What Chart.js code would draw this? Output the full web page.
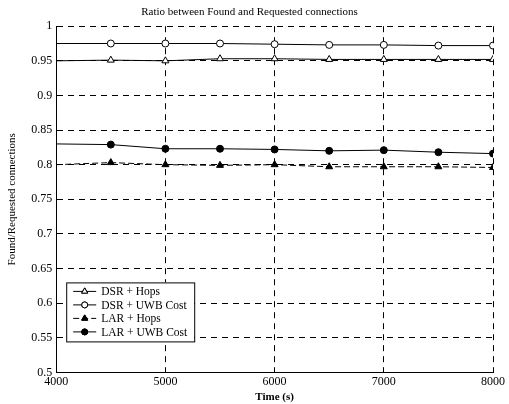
<!DOCTYPE html>
<html>
<head>
<meta charset="utf-8">
<script src="https://cdn.jsdelivr.net/npm/chart.js@4/dist/chart.umd.min.js"></script>
<style>
  html, body { margin: 0; padding: 0; background: #fff; }
  #wrap { width: 509px; height: 404px; position: relative; }
</style>
</head>
<body>
<div id="wrap"><canvas id="chart"></canvas></div>
<script>
  "use strict";

  // data
  const times = [4000, 4500, 5000, 5500, 6000, 6500, 7000, 7500, 8000];
  const dsrHops = [0.950, 0.951, 0.950, 0.953, 0.953, 0.952, 0.952, 0.952, 0.952];
  const dsrUwb = [0.975, 0.975, 0.975, 0.975, 0.974, 0.973, 0.973, 0.972, 0.972];
  const larHops = [0.800, 0.803, 0.800, 0.799, 0.800, 0.797, 0.797, 0.797, 0.796];
  const larUwb = [0.830, 0.829, 0.823, 0.823, 0.822, 0.820, 0.821, 0.818, 0.816];
  const seriesNames = ["DSR + Hops", "DSR + UWB Cost", "LAR + Hops", "LAR + UWB Cost"];
  const xTicks = [4000, 5000, 6000, 7000, 8000];

  const FONT = "'Liberation Serif', 'DejaVu Serif', serif";

  function pts(ys) {
    return times.map((t, i) => ({ x: t, y: ys[i] }));
  }

  // first sample sits on the axis without a marker
  const radii = times.map((t, i) => (i === 0 ? 0 : 3.5));

  function series(label, ys, style, filled, dash) {
    return {
      label: label,
      data: pts(ys),
      borderColor: "#000",
      borderWidth: 1,
      borderDash: dash || [],
      pointStyle: style,
      pointRadius: style === "triangle" ? radii.map((r) => (r ? 4 : 0)) : radii,
      pointBackgroundColor: filled ? "#000" : "#fff",
      pointBorderColor: "#000",
      pointBorderWidth: 1,
      tension: 0,
      fill: false
    };
  }

  // legend boxed inside the plot, lower left
  const innerLegend = {
    id: "innerLegend",
    afterDraw(chart) {
      const ctx = chart.ctx;
      const a = chart.chartArea;
      const x0 = a.left + 10, y0 = a.bottom - 90, w = 128, h = 59;
      ctx.save();
      ctx.fillStyle = "#fff";
      ctx.fillRect(x0, y0, w, h);
      ctx.strokeStyle = "#000";
      ctx.lineWidth = 1;
      ctx.setLineDash([]);
      ctx.strokeRect(x0 + 0.5, y0 + 0.5, w, h);
      ctx.font = "11.5px " + FONT;
      ctx.textBaseline = "middle";
      chart.data.datasets.forEach((ds, i) => {
        const yy = y0 + 9 + i * 13.5;
        ctx.strokeStyle = "#000";
        ctx.setLineDash(ds.borderDash);
        ctx.beginPath();
        ctx.moveTo(x0 + 7, yy);
        ctx.lineTo(x0 + 30, yy);
        ctx.stroke();
        ctx.setLineDash([]);
        ctx.fillStyle = ds.pointBackgroundColor;
        Chart.helpers.drawPoint(ctx, {
          pointStyle: ds.pointStyle,
          radius: ds.pointStyle === "triangle" ? 3.5 : 3,
          borderWidth: 1,
          rotation: 0
        }, x0 + 18.5, yy);
        ctx.fill();
        ctx.stroke();
        ctx.fillStyle = "#000";
        ctx.fillText(ds.label, x0 + 35, yy + 1);
      });
      ctx.restore();
    }
  };

  new Chart(document.getElementById("chart"), {
    type: "line",
    data: {
      datasets: [
        series(seriesNames[0], dsrHops, "triangle", false),
        series(seriesNames[1], dsrUwb, "circle", false),
        series(seriesNames[2], larHops, "triangle", true, [6, 3]),
        series(seriesNames[3], larUwb, "circle", true)
      ]
    },
    options: {
      responsive: true,
      maintainAspectRatio: false,
      animation: false,
      layout: { padding: { left: 6, right: 16, top: 0, bottom: 0 } },
      plugins: {
        legend: { display: false },
        tooltip: { enabled: false },
        title: {
          display: true,
          text: "Ratio between Found and Requested connections",
          color: "#000",
          font: { family: FONT, size: 11, weight: "normal" },
          padding: { top: 6, bottom: 7 }
        }
      },
      scales: {
        x: {
          type: "linear",
          min: 4000,
          max: 8000,
          afterBuildTicks(scale) {
            scale.ticks = xTicks.map((v) => ({ value: v }));
          },
          ticks: {
            color: "#000",
            font: { family: FONT, size: 12 },
            padding: 2,
            maxRotation: 0,
            callback: (v) => String(v)
          },
          grid: { color: "#000", lineWidth: 1, drawTicks: false },
          border: { display: true, color: "#000", width: 1, dash: [6, 5] },
          title: {
            display: true,
            text: "Time (s)",
            color: "#000",
            font: { family: FONT, size: 11, weight: "bold" },
            padding: { top: 0, bottom: 0 }
          }
        },
        y: {
          min: 0.5,
          max: 1,
          ticks: {
            stepSize: 0.05,
            color: "#000",
            font: { family: FONT, size: 12 },
            padding: 4,
            callback: (v) => String(Number(v.toFixed(2)))
          },
          grid: { color: "#000", lineWidth: 1, drawTicks: false },
          border: { display: true, color: "#000", width: 1, dash: [6, 5] },
          title: {
            display: true,
            text: "Found/Requested connections",
            color: "#000",
            font: { family: FONT, size: 11 },
            padding: { top: 0, bottom: 8 }
          }
        }
      }
    },
    plugins: [innerLegend]
  });
</script>
</body>
</html>
